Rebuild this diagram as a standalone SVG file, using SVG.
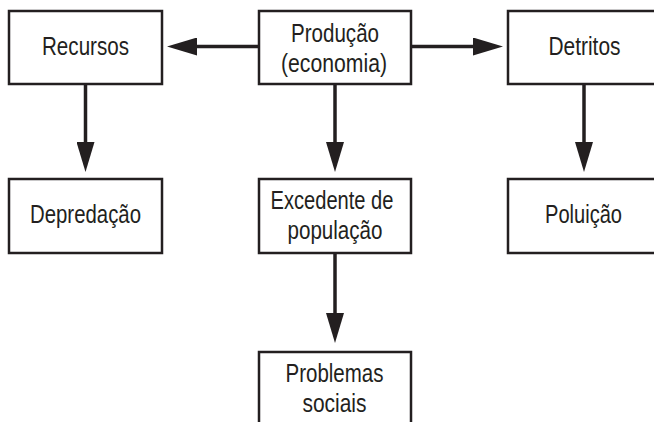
<svg xmlns="http://www.w3.org/2000/svg" width="654" height="422" viewBox="0 0 654 422">
<style>
.box{fill:#fff;stroke:#231f20;stroke-width:2.5}
.lbl{font-family:"Liberation Sans",Arial,sans-serif;font-size:26px;fill:#231f20;text-anchor:middle}
.conn{stroke:#231f20;stroke-width:3.5;fill:none;marker-end:url(#ah)}
</style>
<defs>
<marker id="ah" viewBox="0 0 30 18" refX="2" refY="9" markerWidth="30" markerHeight="18" markerUnits="userSpaceOnUse" orient="auto">
<path d="M0,0 L30,9 L0,18 Z" fill="#231f20"/>
</marker>
</defs>
<g id="connectors">
<line class="conn" x1="259" y1="46.5" x2="195" y2="46.5"/>
<line class="conn" x1="411" y1="46.5" x2="475" y2="46.5"/>
<line class="conn" x1="85.5" y1="84" x2="85.5" y2="144"/>
<line class="conn" x1="335" y1="84" x2="335" y2="144"/>
<line class="conn" x1="584" y1="84" x2="584" y2="144"/>
<line class="conn" x1="335" y1="254" x2="335" y2="315"/>
</g>
<g id="recursos"><rect class="box" x="9" y="11" width="153" height="73"/><text class="lbl" x="85.5" y="55" textLength="87" lengthAdjust="spacingAndGlyphs">Recursos</text></g>
<g id="producao"><rect class="box" x="259" y="11" width="152" height="73"/><text class="lbl" x="335" y="42" textLength="88" lengthAdjust="spacingAndGlyphs">Produção</text><text class="lbl" x="334" y="72" textLength="106" lengthAdjust="spacingAndGlyphs">(economia)</text></g>
<g id="detritos"><rect class="box" x="508" y="11" width="153" height="73"/><text class="lbl" x="584.5" y="55" textLength="72" lengthAdjust="spacingAndGlyphs">Detritos</text></g>
<g id="depredacao"><rect class="box" x="9" y="179" width="153" height="74"/><text class="lbl" x="85.5" y="223" textLength="111" lengthAdjust="spacingAndGlyphs">Depredação</text></g>
<g id="excedente"><rect class="box" x="259" y="179" width="152" height="74"/><text class="lbl" x="332" y="209" textLength="123" lengthAdjust="spacingAndGlyphs">Excedente de</text><text class="lbl" x="335" y="239" textLength="95" lengthAdjust="spacingAndGlyphs">população</text></g>
<g id="poluicao"><rect class="box" x="508" y="179" width="153" height="74"/><text class="lbl" x="583.5" y="223" textLength="77" lengthAdjust="spacingAndGlyphs">Poluição</text></g>
<g id="problemas"><rect class="box" x="259" y="352" width="152" height="90"/><text class="lbl" x="334.5" y="382" textLength="98" lengthAdjust="spacingAndGlyphs">Problemas</text><text class="lbl" x="334.5" y="412" textLength="64" lengthAdjust="spacingAndGlyphs">sociais</text></g>
</svg>
